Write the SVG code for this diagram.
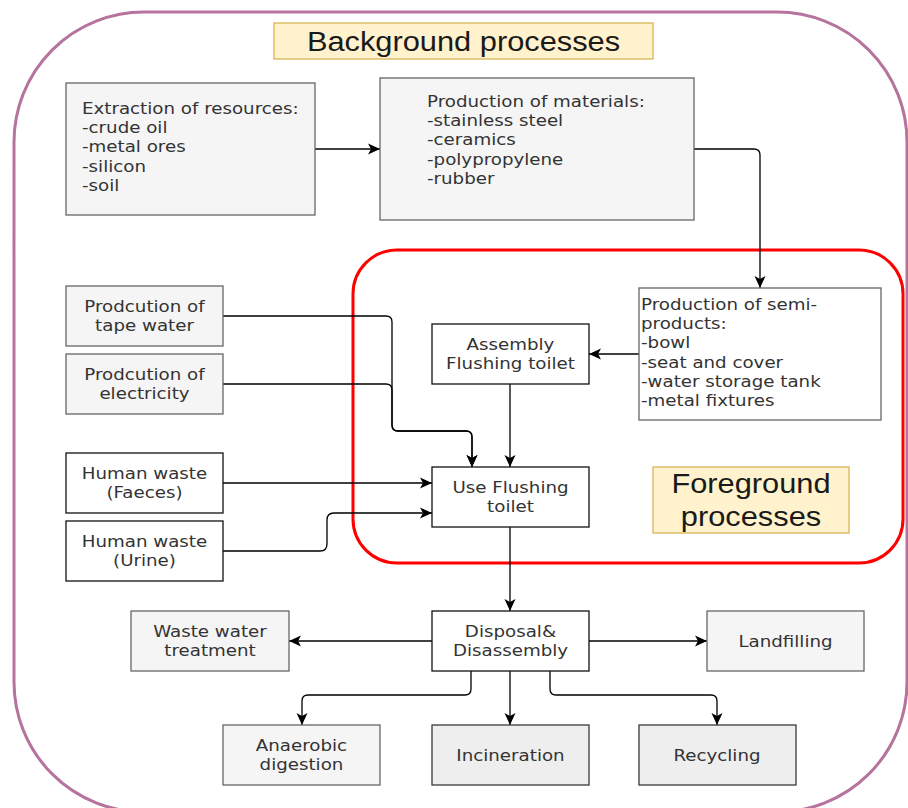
<svg xmlns="http://www.w3.org/2000/svg" width="908" height="808" viewBox="0 0 908 808">
<style>
.bx{font-family:"DejaVu Sans",Verdana,sans-serif;font-size:16px;fill:#333}
.c{text-anchor:middle}
.ttl{font-family:"Liberation Sans",Arial,sans-serif;font-size:28px;fill:#1a1a1a;text-anchor:middle}
.g{fill:#f5f5f5;stroke:#666;stroke-width:1.3}
.g2{fill:#eeeeee;stroke:#36393d;stroke-width:1.3}
.w{fill:#fff;stroke:#111;stroke-width:1.3}
.wg{fill:#fff;stroke:#666;stroke-width:1.3}
.lbl{fill:#fff2cc;stroke:#d6b656;stroke-width:1.3}
.cn path{fill:none;stroke:#000;stroke-width:1.3;marker-end:url(#ar)}
</style>
<defs>
<marker id="ar" markerUnits="userSpaceOnUse" markerWidth="14" markerHeight="12" refX="12" refY="6" orient="auto">
<path d="M0,0.5 L12,6 L0,11.5 L3,6 z" fill="#000"/>
</marker>
</defs>
<g id="background">
<rect x="14" y="12" width="893" height="800" rx="130" ry="130" fill="none" stroke="#b5739d" stroke-width="3"/>
<rect class="lbl" x="274" y="23" width="379" height="36"/>
<text class="ttl" x="463.5" y="51.5" transform="matrix(1.1 0 0 1 -46.35 0)">Background processes</text>
</g>
<g id="foreground">
<rect x="353" y="250" width="550" height="313" rx="44" ry="44" fill="none" stroke="#ff0000" stroke-width="3"/>
<rect class="lbl" x="653" y="467" width="196" height="66"/>
<text class="ttl" x="751" transform="matrix(1.1 0 0 1 -75.1 0)"><tspan x="751" y="493">Foreground</tspan><tspan x="751" y="526">processes</tspan></text>
</g>
<g class="cn" id="connectors">
<path d="M315,149 H380"/>
<path d="M694,149 H754 Q760,149 760,155 V288"/>
<path d="M639,354 H589"/>
<path d="M510,384 V467"/>
<path d="M223,316 H386 Q392,316 392,322 V425 Q392,431 398,431 H466 Q472,431 472,437 V467"/>
<path d="M223,384 H386 Q392,384 392,390 V425 Q392,431 398,431 H466 Q472,431 472,437 V467"/>
<path d="M223,483 H432"/>
<path d="M223,551 H320 Q327,551 327,544 V520 Q327,513 334,513 H432"/>
<path d="M510,527 V611"/>
<path d="M432,641 H289"/>
<path d="M589,641 H707"/>
<path d="M471,671 V689 Q471,695 465,695 H308 Q302,695 302,701 V725"/>
<path d="M510,671 V725"/>
<path d="M550,671 V689 Q550,695 556,695 H711 Q717,695 717,701 V725"/>
</g>
<g id="extraction">
<rect class="g" x="66" y="83" width="249" height="132"/>
<text class="bx" transform="matrix(1.14 0 0 1 -11.48 0)"><tspan x="82" y="114">Extraction of resources:</tspan><tspan x="82" y="133.2">-crude oil</tspan><tspan x="82" y="152.4">-metal ores</tspan><tspan x="82" y="171.6">-silicon</tspan><tspan x="82" y="190.8">-soil</tspan></text>
</g>
<g id="materials">
<rect class="g" x="380" y="78" width="314" height="142"/>
<text class="bx" transform="matrix(1.14 0 0 1 -59.78 0)"><tspan x="427" y="107">Production of materials:</tspan><tspan x="427" y="126.2">-stainless steel</tspan><tspan x="427" y="145.4">-ceramics</tspan><tspan x="427" y="164.6">-polypropylene</tspan><tspan x="427" y="183.8">-rubber</tspan></text>
</g>
<g id="semi">
<rect class="wg" x="639" y="288" width="242" height="132"/>
<text class="bx" transform="matrix(1.14 0 0 1 -89.74 0)"><tspan x="641" y="310">Production of semi-</tspan><tspan x="641" y="329.2">products:</tspan><tspan x="641" y="348.4">-bowl</tspan><tspan x="641" y="367.6">-seat and cover</tspan><tspan x="641" y="386.8">-water storage tank</tspan><tspan x="641" y="406">-metal fixtures</tspan></text>
</g>
<g id="tapwater">
<rect class="g" x="66" y="286" width="157" height="60"/>
<text class="bx c" transform="matrix(1.14 0 0 1 -20.23 0)"><tspan x="144.5" y="312">Prodcution of</tspan><tspan x="144.5" y="331">tape water</tspan></text>
</g>
<g id="electricity">
<rect class="g" x="66" y="354" width="157" height="60"/>
<text class="bx c" transform="matrix(1.14 0 0 1 -20.23 0)"><tspan x="144.5" y="380">Prodcution of</tspan><tspan x="144.5" y="399">electricity</tspan></text>
</g>
<g id="faeces">
<rect class="w" x="66" y="453" width="157" height="60"/>
<text class="bx c" transform="matrix(1.14 0 0 1 -20.23 0)"><tspan x="144.5" y="479">Human waste</tspan><tspan x="144.5" y="498">(Faeces)</tspan></text>
</g>
<g id="urine">
<rect class="w" x="66" y="521" width="157" height="60"/>
<text class="bx c" transform="matrix(1.14 0 0 1 -20.23 0)"><tspan x="144.5" y="547">Human waste</tspan><tspan x="144.5" y="566">(Urine)</tspan></text>
</g>
<g id="assembly">
<rect class="w" x="432" y="324" width="157" height="60"/>
<text class="bx c" transform="matrix(1.14 0 0 1 -71.47 0)"><tspan x="510.5" y="350">Assembly</tspan><tspan x="510.5" y="369">Flushing toilet</tspan></text>
</g>
<g id="use">
<rect class="w" x="432" y="467" width="157" height="60"/>
<text class="bx c" transform="matrix(1.14 0 0 1 -71.47 0)"><tspan x="510.5" y="493">Use Flushing</tspan><tspan x="510.5" y="512">toilet</tspan></text>
</g>
<g id="disposal">
<rect class="w" x="432" y="611" width="157" height="60"/>
<text class="bx c" transform="matrix(1.14 0 0 1 -71.47 0)"><tspan x="510.5" y="637">Disposal&amp;</tspan><tspan x="510.5" y="656">Disassembly</tspan></text>
</g>
<g id="wastewater">
<rect class="g" x="131" y="611" width="158" height="60"/>
<text class="bx c" transform="matrix(1.14 0 0 1 -29.4 0)"><tspan x="210" y="637">Waste water</tspan><tspan x="210" y="656">treatment</tspan></text>
</g>
<g id="landfilling">
<rect class="g" x="707" y="611" width="157" height="60"/>
<text class="bx c" x="785.5" y="647" transform="matrix(1.14 0 0 1 -109.97 0)">Landfilling</text>
</g>
<g id="anaerobic">
<rect class="g" x="223" y="725" width="157" height="60"/>
<text class="bx c" transform="matrix(1.14 0 0 1 -42.21 0)"><tspan x="301.5" y="751">Anaerobic</tspan><tspan x="301.5" y="770">digestion</tspan></text>
</g>
<g id="incineration">
<rect class="g2" x="432" y="725" width="157" height="60"/>
<text class="bx c" x="510.5" y="761" transform="matrix(1.14 0 0 1 -71.47 0)">Incineration</text>
</g>
<g id="recycling">
<rect class="g2" x="639" y="725" width="157" height="60"/>
<text class="bx c" x="717" y="761" transform="matrix(1.14 0 0 1 -100.38 0)">Recycling</text>
</g>
</svg>
